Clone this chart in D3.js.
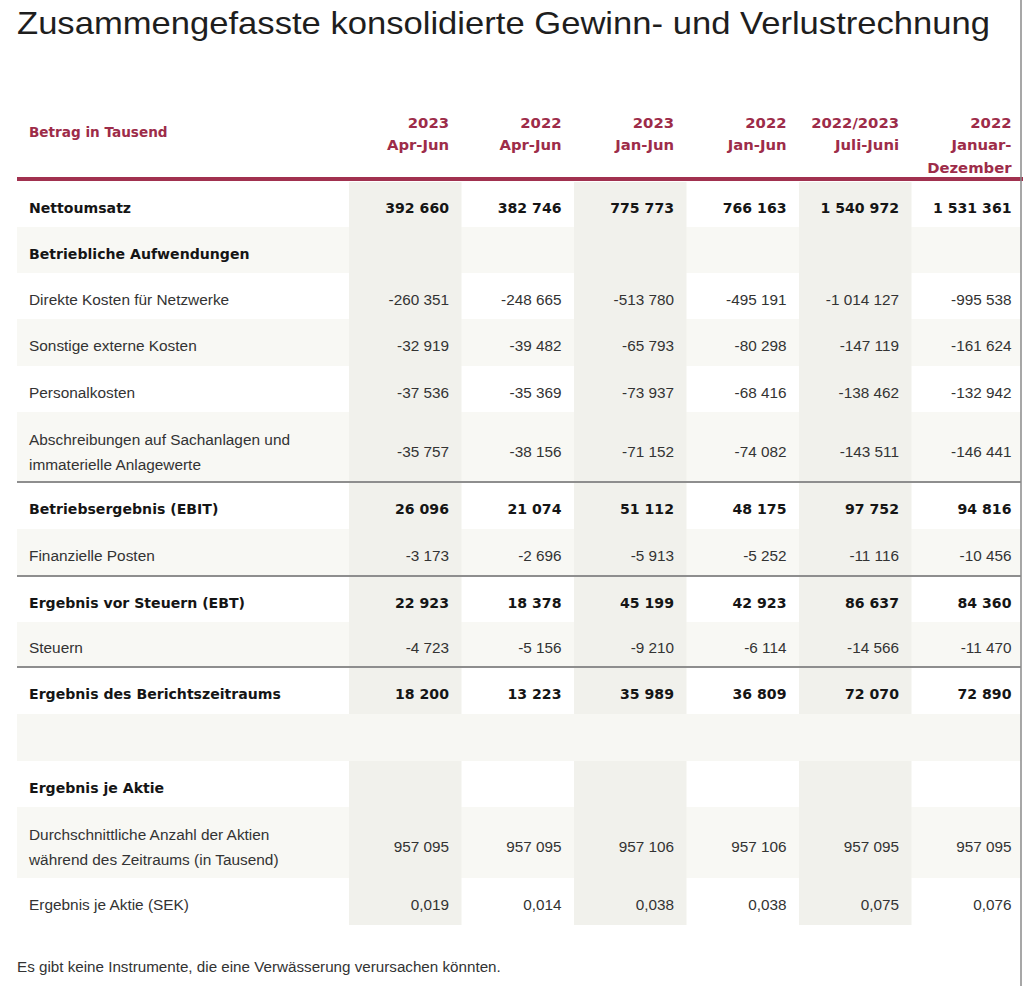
<!DOCTYPE html>
<html><head><meta charset="utf-8">
<script src="https://cdn.jsdelivr.net/npm/d3@7"></script>
<style>html,body{margin:0;padding:0;background:#fff;}svg{display:block;}</style>
</head><body>
<svg id="chart" width="1024" height="986"></svg>
<script>
// ---------- DATA ----------
const title = "Zusammengefasste konsolidierte Gewinn- und Verlustrechnung";
const unitLabel = "Betrag in Tausend";
const columnYears = ["2023", "2022", "2023", "2022", "2022/2023", "2022"];
const columnPeriods = [["Apr-Jun"], ["Apr-Jun"], ["Jan-Jun"], ["Jan-Jun"], ["Juli-Juni"], ["Januar-", "Dezember"]];
const rowLabels = [
  ["Nettoumsatz"],
  ["Betriebliche Aufwendungen"],
  ["Direkte Kosten für Netzwerke"],
  ["Sonstige externe Kosten"],
  ["Personalkosten"],
  ["Abschreibungen auf Sachanlagen und", "immaterielle Anlagewerte"],
  ["Betriebsergebnis (EBIT)"],
  ["Finanzielle Posten"],
  ["Ergebnis vor Steuern (EBT)"],
  ["Steuern"],
  ["Ergebnis des Berichtszeitraums"],
  [""],
  ["Ergebnis je Aktie"],
  ["Durchschnittliche Anzahl der Aktien", "während des Zeitraums (in Tausend)"],
  ["Ergebnis je Aktie (SEK)"]
];
const nettoumsatz     = [392660, 382746, 775773, 766163, 1540972, 1531361];
const direkteKosten   = [-260351, -248665, -513780, -495191, -1014127, -995538];
const sonstigeKosten  = [-32919, -39482, -65793, -80298, -147119, -161624];
const personalkosten  = [-37536, -35369, -73937, -68416, -138462, -132942];
const abschreibungen  = [-35757, -38156, -71152, -74082, -143511, -146441];
const ebit            = [26096, 21074, 51112, 48175, 97752, 94816];
const finanzPosten    = [-3173, -2696, -5913, -5252, -11116, -10456];
const ebt             = [22923, 18378, 45199, 42923, 86637, 84360];
const steuern         = [-4723, -5156, -9210, -6114, -14566, -11470];
const ergebnis        = [18200, 13223, 35989, 36809, 72070, 72890];
const aktienAnzahl    = [957095, 957095, 957106, 957106, 957095, 957095];
const ergebnisJeAktie = [0.019, 0.014, 0.038, 0.038, 0.075, 0.076];
const footnote = "Es gibt keine Instrumente, die eine Verwässerung verursachen könnten.";

const rowValues = [nettoumsatz, null, direkteKosten, sonstigeKosten, personalkosten, abschreibungen,
  ebit, finanzPosten, ebt, steuern, ergebnis, null, null, aktienAnzahl, ergebnisJeAktie];
const rowBold = [true, true, false, false, false, false, true, false, true, false, true, false, true, false, false];
const rowIsEps = [false,false,false,false,false,false,false,false,false,false,false,false,false,false,true];

// ---------- LAYOUT ----------
const rowHeights = [45, 46, 46, 47, 46, 70, 47, 47, 46, 45, 47, 47, 46, 71, 47];
const separatorBefore = [6, 8, 10];
const tableTop = 182, tableLeft = 17, tableRight = 1021;
const CRIMSON = "#9d2c49";

const loc = d3.formatLocale({decimal: ",", thousands: " ", grouping: [3], currency: ["", ""], minus: "-"});
const fmtInt = loc.format(",d"), fmtEps = loc.format(".3f");

const svg = d3.select("#chart");
const cols = d3.range(columnYears.length);
const x = d3.scaleBand().domain(cols).range([349, 1024]).paddingInner(0).paddingOuter(0);
const textRight = c => x(c) + x.bandwidth() - 12.5;

const rowTops = [];
rowHeights.reduce((acc, h, i) => { rowTops[i] = acc; return acc + h; }, tableTop);
const tableBottom = tableTop + d3.sum(rowHeights);
const rows = rowLabels.map((lab, i) => ({i, lab, vals: rowValues[i], bold: rowBold[i], eps: rowIsEps[i],
  top: rowTops[i], h: rowHeights[i]}));

// title
svg.append("text").attr("x", 17).attr("y", 34)
  .attr("font-family", "Liberation Sans, Arial, sans-serif").attr("font-size", 32)
  .attr("fill", "#1e1e1e").attr("textLength", 973).attr("lengthAdjust", "spacingAndGlyphs")
  .text(title);

// zebra rows
svg.append("g").selectAll("rect").data(rows.filter(r => r.i % 2 === 1 && r.i !== 11)).join("rect")
  .attr("x", tableLeft).attr("y", r => r.top).attr("width", tableRight - tableLeft).attr("height", r => r.h)
  .attr("fill", "#f8f8f4");

// column bands
svg.append("g").selectAll("rect").data(cols.filter(c => c % 2 === 0)).join("rect")
  .attr("x", c => x(c)).attr("y", tableTop).attr("width", x.bandwidth()).attr("height", tableBottom - tableTop)
  .attr("fill", "#f1f1ec");

// blank row covers bands
svg.append("rect").attr("x", tableLeft).attr("y", rowTops[11]).attr("width", tableRight - tableLeft)
  .attr("height", rowHeights[11]).attr("fill", "#f7f7f3");

// separators
svg.append("g").selectAll("line").data(separatorBefore).join("line")
  .attr("x1", tableLeft).attr("x2", tableRight).attr("y1", i => rowTops[i]).attr("y2", i => rowTops[i])
  .attr("stroke", "#8e8e8e").attr("stroke-width", 2);

// red header rule
svg.append("rect").attr("x", tableLeft).attr("y", 177).attr("width", tableRight - tableLeft + 2).attr("height", 4)
  .attr("fill", "#a1314f");

// header
const BOLD = "DejaVu Sans, Verdana, sans-serif";
const REG = "Liberation Sans, Arial, Helvetica, sans-serif";
svg.append("text").attr("x", 29).attr("y", 137).attr("font-family", BOLD).attr("font-weight", "bold")
  .attr("font-size", 13.6).attr("fill", CRIMSON).text(unitLabel);
const hdr = svg.append("g").selectAll("text").data(cols).join("text")
  .attr("x", c => textRight(c)).attr("text-anchor", "end")
  .attr("font-family", BOLD).attr("font-weight", "bold").attr("font-size", 14.8).attr("fill", CRIMSON);
hdr.selectAll("tspan").data(c => [columnYears[c]].concat(columnPeriods[c])).join("tspan")
  .attr("x", function() { return d3.select(this.parentNode).attr("x"); })
  .attr("y", (d, k) => 127.5 + k * 22.5).text(d => d);

// row labels
const labelG = svg.append("g").selectAll("text").data(rows).join("text")
  .attr("x", 29)
  .attr("font-family", r => r.bold ? BOLD : REG).attr("font-weight", r => r.bold ? "bold" : "normal")
  .attr("font-size", r => r.bold ? 14.1 : 15.4).attr("fill", r => r.bold ? "#151515" : "#333");
labelG.selectAll("tspan").data(r => r.lab.map((t, k) => ({t, k, r}))).join("tspan")
  .attr("x", 29)
  .attr("y", d => {
    const c = d.r.top + d.r.h / 2;
    if (d.r.lab.length === 1) return c + 8.5;
    return c - 2.5 + d.k * 25;
  })
  .text(d => d.t);

// values
const cells = rows.filter(r => r.vals).flatMap(r => r.vals.map((v, c) => ({r, v, c})));
svg.append("g").selectAll("text").data(cells).join("text")
  .attr("x", d => textRight(d.c)).attr("text-anchor", "end")
  .attr("y", d => d.r.top + d.r.h / 2 + (d.r.lab.length > 1 ? 9.5 : 8.5))
  .attr("font-family", d => d.r.bold ? BOLD : REG).attr("font-weight", d => d.r.bold ? "bold" : "normal")
  .attr("font-size", d => d.r.bold ? 14.1 : 15.3).attr("fill", d => d.r.bold ? "#151515" : "#333")
  .text(d => d.r.eps ? fmtEps(d.v) : fmtInt(d.v));

// footnote
svg.append("text").attr("x", 17).attr("y", 972).attr("font-family", REG).attr("font-size", 15.2)
  .attr("fill", "#333").text(footnote);

// right border of the page
svg.append("line").attr("x1", 1021).attr("x2", 1021).attr("y1", 0).attr("y2", 986)
  .attr("stroke", "#8a8a8a").attr("stroke-width", 1.5);
</script>
</body></html>
